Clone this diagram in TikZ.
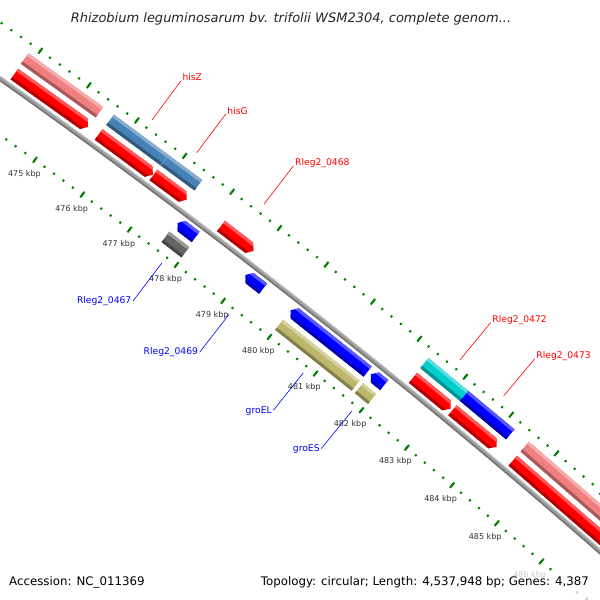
\documentclass[tikz,border=0pt]{standalone}
\usepackage{fontspec}
\setmainfont{DejaVu Sans}
\usetikzlibrary{calc}

\definecolor{cdsred}{RGB}{255,0,0}
\definecolor{genepink}{RGB}{240,128,128}
\definecolor{hisblue}{RGB}{70,130,180}
\definecolor{cdsblue}{RGB}{0,0,255}
\definecolor{rnacyan}{RGB}{0,205,205}
\definecolor{pseudogray}{RGB}{100,100,100}
\definecolor{grokhaki}{RGB}{189,183,107}
\definecolor{tickgreen}{RGB}{0,128,0}
\definecolor{bbgray}{RGB}{155,155,155}

% radii (backbone, gene/cds rings, tick rings)
\def\Rb{7367.6}
\def\Rgo{7398.1}
\def\Rco{7379.6}
\def\Rci{7355.6}
\def\Rgi{7337.1}
\def\Rto{7413.6}
\def\Rti{7321.6}
% kbp -> angle
\newcommand{\kang}[1]{53.2-0.46*(#1-477)}

% plain feature: start, end, ring, colour
\newcommand{\featbox}[4]{%
  \fill[#4] ({\kang{#1}}:{#3-6.5}) -- ({\kang{#1}}:{#3+6.5}) -- ({\kang{#2}}:{#3+6.5}) -- ({\kang{#2}}:{#3-6.5}) -- cycle;
  \fill[#4!65!white] ({\kang{#1}}:{#3+3.5}) -- ({\kang{#1}}:{#3+6.5}) -- ({\kang{#2}}:{#3+6.5}) -- ({\kang{#2}}:{#3+3.5}) -- cycle;
  \fill[#4!70!black] ({\kang{#1}}:{#3-6.5}) -- ({\kang{#1}}:{#3-3.5}) -- ({\kang{#2}}:{#3-3.5}) -- ({\kang{#2}}:{#3-6.5}) -- cycle;
}
% forward arrow (tip at end)
\newcommand{\featfwd}[4]{%
  \fill[#4] ({\kang{#1}}:{#3-6.5}) -- ({\kang{#1}}:{#3+6.5}) -- ({\kang{#2-0.09}}:{#3+6.5}) -- ({\kang{#2}}:{#3}) -- ({\kang{#2-0.09}}:{#3-6.5}) -- cycle;
  \fill[#4!65!white] ({\kang{#1}}:{#3+3.5}) -- ({\kang{#1}}:{#3+6.5}) -- ({\kang{#2-0.09}}:{#3+6.5}) -- ({\kang{#2-0.048}}:{#3+3.5}) -- cycle;
  \fill[#4!70!black] ({\kang{#1}}:{#3-6.5}) -- ({\kang{#1}}:{#3-3.5}) -- ({\kang{#2-0.048}}:{#3-3.5}) -- ({\kang{#2-0.09}}:{#3-6.5}) -- cycle;
}
% reverse arrow (tip at start)
\newcommand{\featrev}[4]{%
  \fill[#4] ({\kang{#1}}:{#3}) -- ({\kang{#1+0.09}}:{#3+6.5}) -- ({\kang{#2}}:{#3+6.5}) -- ({\kang{#2}}:{#3-6.5}) -- ({\kang{#1+0.09}}:{#3-6.5}) -- cycle;
  \fill[#4!65!white] ({\kang{#1+0.048}}:{#3+3.5}) -- ({\kang{#1+0.09}}:{#3+6.5}) -- ({\kang{#2}}:{#3+6.5}) -- ({\kang{#2}}:{#3+3.5}) -- cycle;
  \fill[#4!70!black] ({\kang{#1+0.09}}:{#3-6.5}) -- ({\kang{#1+0.048}}:{#3-3.5}) -- ({\kang{#2}}:{#3-3.5}) -- ({\kang{#2}}:{#3-6.5}) -- cycle;
}

\begin{document}
\begin{tikzpicture}[x=1pt,y=1pt,
  tickmark/.style={draw=tickgreen, line width=2pt},
  ticklbl/.style={font=\fontsize{8}{9}\selectfont, text=black!80, inner sep=0pt},
  lbl/.style={font=\fontsize{9.2}{10}\selectfont, inner sep=1.5pt},
  fwdlbl/.style={lbl, text=cdsred, anchor=base west},
  revlbl/.style={lbl, text=cdsblue, anchor=mid east},
  leader/.style={line width=0.6pt}]

\useasboundingbox (0,0) rectangle (600,600);
\fill[white] (0,0) rectangle (600,600);

\begin{scope}
\clip (0,0) rectangle (600,600);
\begin{scope}[shift={(-4256,-5492)}]

% ticks, both rings
\foreach \i in {0,...,80}{
	\pgfmathsetmacro{\kk}{472+0.2*\i}
	\draw[tickmark] ({\kang{\kk}}:{\Rto-1.1}) -- ({\kang{\kk}}:{\Rto+1.1});
	\draw[tickmark] ({\kang{\kk}}:{\Rti-1.1}) -- ({\kang{\kk}}:{\Rti+1.1});
}
\foreach \k in {472,...,488}{
	\draw[tickmark] ({\kang{\k}}:{\Rto-3.5}) -- ({\kang{\k}}:{\Rto+3.5});
	\draw[tickmark] ({\kang{\k}}:{\Rti-3.5}) -- ({\kang{\k}}:{\Rti+3.5});
}
\foreach \k in {475,...,486}{
	\node[ticklbl] (kbp\k) at ({\kang{\k}}:{\Rti-18}) {\k\ kbp};
}

% outer genes
\featbox{473.86}{475.41}{\Rgo}{genepink}
\featbox{475.63}{476.77}{\Rgo}{hisblue}
\featbox{476.77}{477.48}{\Rgo}{hisblue}
\draw[hisblue!70!white, line width=0.6pt] ({\kang{476.77}}:{\Rgo-6.5}) -- ({\kang{476.77}}:{\Rgo+6.5});
\featbox{482.32}{483.19}{\Rgo}{rnacyan}
\featbox{483.19}{484.20}{\Rgo}{cdsblue}
\featbox{484.52}{488}{\Rgo}{genepink}

% outer cds
\featfwd{473.87}{475.40}{\Rco}{cdsred}
\featfwd{475.62}{476.76}{\Rco}{cdsred}
\featfwd{476.77}{477.47}{\Rco}{cdsred}
\featfwd{478.20}{478.89}{\Rco}{cdsred}
\featfwd{482.33}{483.15}{\Rco}{cdsred}
\featfwd{483.19}{484.16}{\Rco}{cdsred}
\featfwd{484.52}{488}{\Rco}{cdsred}

% inner cds
\featrev{477.58}{477.97}{\Rci}{cdsblue}
\featrev{479.03}{479.41}{\Rci}{cdsblue}
\featrev{480.00}{481.67}{\Rci}{cdsblue}
\featrev{481.74}{482.03}{\Rci}{cdsblue}

% inner genes
\featbox{477.56}{477.99}{\Rgi}{pseudogray}
\featbox{480.00}{481.66}{\Rgi}{grokhaki}
\featbox{481.73}{482.02}{\Rgi}{grokhaki}

% backbone
\draw[bbgray, line width=4.6pt] ({\kang{472}}:\Rb) arc[start angle={\kang{472}}, end angle={\kang{488}}, radius=\Rb];
\draw[black!55, line width=1.4pt] ({\kang{472}}:{\Rb-1.6}) arc[start angle={\kang{472}}, end angle={\kang{488}}, radius=\Rb-1.6];
\draw[black!25, line width=1pt] ({\kang{472}}:{\Rb+1.8}) arc[start angle={\kang{472}}, end angle={\kang{488}}, radius=\Rb+1.8];

% labels, outside
\coordinate (hisZ-a) at ({\kang{476.20}}:{\Rb+55.5});
\node[fwdlbl] (hisZ) at ({\kang{476.20}}:{\Rb+104}) {hisZ};
\draw[leader, cdsred] (hisZ-a) -- (hisZ.base west);

\coordinate (hisG-a) at ({\kang{477.13}}:{\Rb+55.5});
\node[fwdlbl] (hisG) at ({\kang{477.13}}:{\Rb+104}) {hisG};
\draw[leader, cdsred] (hisG-a) -- (hisG.base west);

\coordinate (r0468-a) at ({\kang{478.55}}:{\Rb+55.5});
\node[fwdlbl] (r0468) at ({\kang{478.55}}:{\Rb+104}) {Rleg2\_0468};
\draw[leader, cdsred] (r0468-a) -- (r0468.base west);

\coordinate (r0472-a) at ({\kang{482.75}}:{\Rb+55.5});
\node[fwdlbl] (r0472) at ({\kang{482.75}}:{\Rb+104}) {Rleg2\_0472};
\draw[leader, cdsred] (r0472-a) -- (r0472.base west);

\coordinate (r0473-a) at ({\kang{483.70}}:{\Rb+55.5});
\node[fwdlbl] (r0473) at ({\kang{483.70}}:{\Rb+104}) {Rleg2\_0473};
\draw[leader, cdsred] (r0473-a) -- (r0473.base west);

% labels, inside
\coordinate (r0467-a) at ({\kang{477.78}}:{\Rb-53});
\node[revlbl] (r0467) at ({\kang{477.78}}:{\Rb-101}) {Rleg2\_0467};
\draw[leader, cdsblue] (r0467-a) -- (r0467.mid east);

\coordinate (r0469-a) at ({\kang{479.22}}:{\Rb-53});
\node[revlbl] (r0469) at ({\kang{479.22}}:{\Rb-101}) {Rleg2\_0469};
\draw[leader, cdsblue] (r0469-a) -- (r0469.mid east);

\coordinate (groEL-a) at ({\kang{480.83}}:{\Rb-53});
\node[revlbl] (groEL) at ({\kang{480.83}}:{\Rb-101}) {groEL};
\draw[leader, cdsblue] (groEL-a) -- (groEL.mid east);

\coordinate (groES-a) at ({\kang{481.88}}:{\Rb-53});
\node[revlbl] (groES) at ({\kang{481.88}}:{\Rb-101}) {groES};
\draw[leader, cdsblue] (groES-a) -- (groES.mid east);

\end{scope}
\end{scope}

% title and legend
\node[font=\fontsize{13}{15}\selectfont\itshape, text=black!85, anchor=base] (title) at (291,577.5) {Rhizobium leguminosarum bv. trifolii WSM2304, complete genom...};
\fill[white, opacity=0.75] (0,0) rectangle (600,29);
\node[font=\fontsize{11.8}{13}\selectfont, anchor=base west, inner sep=0pt] (acc) at (9,14) {Accession: NC\_011369};
\node[font=\fontsize{11.8}{13}\selectfont, anchor=base east, inner sep=0pt] (topo) at (589,14) {Topology: circular; Length: 4,537,948 bp; Genes: 4,387};

\end{tikzpicture}
\end{document}
